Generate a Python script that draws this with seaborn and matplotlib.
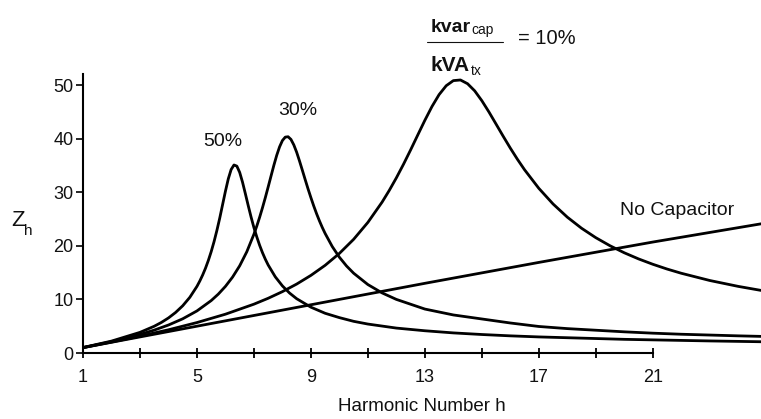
import matplotlib
matplotlib.use("Agg")
import matplotlib.pyplot as plt
from matplotlib.lines import Line2D
import pandas as pd
import seaborn as sns

# Harmonic impedance Z_h versus harmonic number for several capacitor sizes
h_no_cap = [1, 5, 9, 13, 17, 21, 24.8]
z_no_cap = [1.0, 5.0, 9.0, 13.0, 16.9, 20.7, 24.1]

h_10 = [1, 2, 3, 4, 5, 6, 7, 7.5, 8, 8.5, 9, 9.5, 10, 10.5, 11, 11.5, 11.75, 12, 12.25,
        12.5, 12.75, 13, 13.25, 13.5, 13.75, 14, 14.25, 14.5, 14.75, 15, 15.25, 15.5,
        15.75, 16, 16.25, 16.5, 17, 17.5, 18, 18.5, 19, 19.5, 20, 20.5, 21, 21.5, 22,
        23, 24, 24.8]
z_10 = [1.0, 2.04, 3.14, 4.33, 5.68, 7.24, 9.11, 10.21, 11.45, 12.86, 14.48, 16.36,
        18.58, 21.21, 24.37, 28.16, 30.33, 32.68, 35.21, 37.89, 40.66, 43.41, 45.99,
        48.21, 49.87, 50.82, 50.94, 50.24, 48.91, 47.08, 44.97, 42.71, 40.44, 38.23,
        36.14, 34.19, 30.73, 27.81, 25.35, 23.28, 21.52, 20.01, 18.7, 17.56, 16.56,
        15.67, 14.88, 13.53, 12.43, 11.68]

h_30 = [1, 2, 3, 3.5, 4, 4.5, 5, 5.5, 5.75, 6, 6.25, 6.5, 6.75, 7, 7.1, 7.2, 7.3, 7.4,
        7.5, 7.6, 7.7, 7.8, 7.9, 8, 8.1, 8.2, 8.3, 8.4, 8.5, 8.6, 8.7, 8.8, 8.9, 9,
        9.1, 9.2, 9.3, 9.4, 9.5, 9.75, 10, 10.25, 10.5, 11, 11.5, 12, 13, 14, 15, 16,
        17, 18, 19, 20, 21, 22, 23, 24, 24.8]
z_30 = [1.01, 2.12, 3.46, 4.27, 5.22, 6.38, 7.85, 9.78, 10.99, 12.43, 14.16, 16.27,
        18.89, 22.16, 23.67, 25.32, 27.1, 28.99, 30.98, 33.01, 35.02, 36.88, 38.46,
        39.64, 40.28, 40.35, 39.85, 38.83, 37.46, 35.83, 34.1, 32.34, 30.62, 28.99,
        27.43, 25.98, 24.65, 23.42, 22.3, 19.86, 17.87, 16.24, 14.89, 12.77, 11.21,
        10.0, 8.2, 7.1, 6.35, 5.6, 4.95, 4.55, 4.25, 3.95, 3.7, 3.5, 3.35, 3.2, 3.1]

h_50 = [1, 2, 3, 3.5, 3.75, 4, 4.25, 4.5, 4.75, 5, 5.1, 5.2, 5.3, 5.4, 5.5, 5.6, 5.7,
        5.8, 5.9, 6, 6.1, 6.2, 6.3, 6.4, 6.5, 6.6, 6.7, 6.8, 6.9, 7, 7.1, 7.2, 7.3,
        7.4, 7.5, 7.75, 8, 8.25, 8.5, 9, 9.5, 10, 10.5, 11, 12, 13, 14, 15, 16, 17,
        18, 19, 20, 21, 22, 23, 24.8]
z_50 = [1.02, 2.22, 3.85, 4.99, 5.7, 6.54, 7.56, 8.81, 10.39, 12.43, 13.43, 14.55,
        15.82, 17.27, 18.91, 20.77, 22.87, 25.17, 27.68, 30.19, 32.49, 34.23, 35.08,
        34.87, 33.7, 31.87, 29.71, 27.5, 25.37, 23.4, 21.67, 20.1, 18.72, 17.5, 16.42,
        14.21, 12.52, 11.19, 10.13, 8.55, 7.41, 6.6, 5.91, 5.4, 4.65, 4.15, 3.75, 3.45,
        3.2, 3.0, 2.85, 2.7, 2.55, 2.45, 2.35, 2.25, 2.1]

x_major = [1, 5, 9, 13, 17, 21]
x_minor = [3, 7, 11, 15, 19]
y_major = [0, 10, 20, 30, 40, 50]

curves = [("No Capacitor", h_no_cap, z_no_cap), ("10%", h_10, z_10),
          ("30%", h_30, z_30), ("50%", h_50, z_50)]
df = pd.concat([pd.DataFrame({"h": h, "Z": z, "curve": name}) for name, h, z in curves],
               ignore_index=True)

sns.set_theme(style="white")
plt.rcParams["font.family"] = ["Liberation Sans", "DejaVu Sans"]
INK = "#111111"

W, H = 761, 419
fig = plt.figure(figsize=(W / 100, H / 100), dpi=100)
ax = fig.add_axes([83 / W, 66 / H, 678 / W, 278.7 / H])

sns.lineplot(data=df, x="h", y="Z", units="curve", estimator=None, sort=False,
             color="black", linewidth=2.0, solid_joinstyle="round", ax=ax, legend=False)

ax.set_xlim(1, 24.8)
ax.set_ylim(0, 52)
for side in ("top", "right"):
    ax.spines[side].set_visible(False)
for side in ("left", "bottom"):
    ax.spines[side].set_color("black")
    ax.spines[side].set_linewidth(1.5)
ax.spines["bottom"].set_bounds(1, 21)

ax.set_xticks(x_major)
ax.set_xticks(x_minor, minor=True)
ax.set_yticks(y_major)
ax.tick_params(axis="x", which="both", bottom=True, direction="inout", length=7,
               width=1.3, color="black", pad=8, labelsize=13, labelcolor=INK)
ax.tick_params(axis="y", left=True, direction="out", length=5, width=1.2,
               color="black", pad=2, labelsize=13, labelcolor=INK)

ax.set_xlabel("Harmonic Number h", fontsize=13.5, color=INK, labelpad=9)
ax.set_ylabel("")


def fx(px):
    return px / W


def fy(py):
    return 1 - py / H


# axis symbol Z_h
fig.text(fx(18), fy(221), "Z", fontsize=16, ha="center", va="center", color=INK)
fig.text(fx(28), fy(231), "h", fontsize=11, ha="center", va="center", color=INK)

# curve labels
ax.text(5.9, 39.5, "50%", fontsize=14, ha="center", va="center", color=INK)
ax.text(8.53, 45.2, "30%", fontsize=14, ha="center", va="center", color=INK)
ax.text(21.85, 26.6, "No Capacitor", fontsize=14, ha="center", va="center", color=INK)

# kvar_cap / kVA_tx = 10% label
fig.text(fx(431), fy(32), "kvar", fontsize=14, fontweight="bold", ha="left",
         va="baseline", color=INK)
fig.text(fx(471), fy(34), "cap", fontsize=10, ha="left", va="baseline", color=INK)
fig.add_artist(Line2D([fx(427), fx(503)], [fy(42), fy(42)], color=INK, linewidth=0.8))
fig.text(fx(431), fy(71), "kVA", fontsize=15, fontweight="bold", ha="left",
         va="baseline", color=INK)
fig.text(fx(471), fy(75), "tx", fontsize=10, ha="left", va="baseline", color=INK)
fig.text(fx(518), fy(39), "= 10%", fontsize=14.5, ha="left", va="center", color=INK)

fig.savefig("out.png", dpi=100, facecolor="white")
